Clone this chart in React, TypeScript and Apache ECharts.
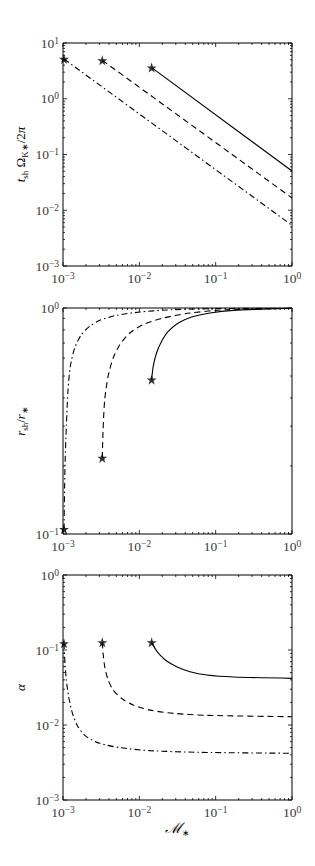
import React, { useEffect, useRef } from "react";
import * as echarts from "echarts";

// Panel 1: t_sh Omega_K*/2pi vs M*
const T_SOLID: number[][] = [[0.0145, 3.62], [1, 0.0506]];
const T_DASHED: number[][] = [[3.27e-3, 4.89], [1, 0.0166]];
const T_DASHDOT: number[][] = [[1.03e-3, 5.16], [1, 0.00536]];

// Panel 2: r_sh / r_*
const R_SOLID: number[][] = [[0.0145, 0.482], [0.0152, 0.552], [0.0168, 0.632], [0.0196, 0.712], [0.0239, 0.788], [0.0324, 0.858], [0.0485, 0.912], [0.0844, 0.95], [0.171, 0.976], [0.469, 0.99], [1, 0.997]];
const R_DASHED: number[][] = [[3.27e-3, 0.217], [3.35e-3, 0.29], [3.52e-3, 0.393], [3.9e-3, 0.499], [4.54e-3, 0.601], [5.55e-3, 0.688], [7.5e-3, 0.775], [0.01125, 0.844], [0.0206, 0.903], [0.0461, 0.95], [0.1396, 0.983], [1, 0.997]];
const R_DASHDOT: number[][] = [[1.03e-3, 0.105], [1.062e-3, 0.199], [1.106e-3, 0.3], [1.164e-3, 0.435], [1.248e-3, 0.552], [1.42e-3, 0.665], [1.74e-3, 0.762], [2.24e-3, 0.83], [3.03e-3, 0.882], [5.0e-3, 0.928], [0.0102, 0.96], [0.0227, 0.98], [0.0763, 0.993], [1, 0.998]];

// Panel 3: alpha
const A_SOLID: number[][] = [[0.0145, 0.1265], [0.016, 0.105], [0.0186, 0.0858], [0.0228, 0.0713], [0.0308, 0.06], [0.0461, 0.0514], [0.0764, 0.0464], [0.171, 0.0437], [1, 0.0419]];
const A_DASHED: number[][] = [[3.27e-3, 0.1265], [3.35e-3, 0.0903], [3.52e-3, 0.06], [3.9e-3, 0.0398], [4.54e-3, 0.0293], [5.83e-3, 0.0227], [8.3e-3, 0.0185], [0.01375, 0.0158], [0.0279, 0.0143], [0.0764, 0.01346], [1, 0.0129]];
const A_DASHDOT: number[][] = [[1.03e-3, 0.1227], [1.062e-3, 0.0664], [1.106e-3, 0.0398], [1.186e-3, 0.0239], [1.33e-3, 0.0143], [1.57e-3, 0.0095], [2.02e-3, 0.00699], [3.03e-3, 0.0057], [5.55e-3, 0.00499], [0.01375, 0.00455], [0.0624, 0.00432], [1, 0.0042]];

// Axis ranges (decade exponents)
const X_DECADES = [-3, -2, -1, 0];
const Y_DECADES_1 = [-3, -2, -1, 0, 1];
const Y_DECADES_2 = [-1, 0];
const Y_DECADES_3 = [-3, -2, -1, 0];
const MANTISSAS = [1, 2, 3, 4, 5, 6, 7, 8, 9];

// Axis titles
const Y_TITLES = [
  "{i|t}{sub|sh} {r|\u03A9}{sub|K\u2217}{r|/2}{i|\u03C0}",
  "{i|r}{sub|sh}{r|/}{i|r}{sub|\u2217}",
  "{i|\u03B1}",
];
const X_TITLE = "{m|\u2133}{sub|\u2217}";

const FONT = "Liberation Serif";
const LABEL_COLOR = "#3a3a3a";
const STAR = "path://M50,0 L61.8,35.3 L99,35.3 L69,57.1 L80.4,92.7 L50,70.6 L19.6,92.7 L31,57.1 L1,35.3 L38.2,35.3 Z";

function tickValues(decades: number[]) {
  const out: { v: number; major: boolean }[] = [];
  for (let i = 0; i < decades.length; i++) {
    const d = decades[i];
    if (i === decades.length - 1) {
      out.push({ v: Math.pow(10, d), major: true });
    } else {
      for (const m of MANTISSAS) out.push({ v: m * Math.pow(10, d), major: m === 1 });
    }
  }
  return out;
}

function fmtExp(v: number) {
  const e = Math.round(Math.log10(v));
  const s = e < 0 ? "\u2212" + -e : String(e);
  return "{b|10}{s|" + s + "}";
}

const richLabel = {
  b: { fontSize: 13.5, fontFamily: FONT, color: LABEL_COLOR, lineHeight: 15 },
  s: { fontSize: 9.5, fontFamily: FONT, color: LABEL_COLOR, verticalAlign: "top", lineHeight: 9 },
};

const titleRich = {
  i: { fontSize: 13, fontFamily: FONT, fontStyle: "italic", color: LABEL_COLOR, lineHeight: 16 },
  r: { fontSize: 13, fontFamily: FONT, color: LABEL_COLOR, lineHeight: 16 },
  m: { fontSize: 15, fontFamily: "DejaVu Serif", fontStyle: "italic", color: LABEL_COLOR, lineHeight: 16 },
  sub: { fontSize: 9, fontFamily: FONT, color: LABEL_COLOR, verticalAlign: "bottom", lineHeight: 19 },
};

export default function App() {
  const ref = useRef<HTMLDivElement>(null);
  useEffect(() => {
    if (!ref.current) return;
    const chart = echarts.init(ref.current, undefined, { renderer: "svg" });

    const grids = [
      { left: 63, top: 43, width: 229, height: 223 },
      { left: 63, top: 308, width: 229, height: 226 },
      { left: 63, top: 575, width: 229, height: 225 },
    ];
    const yDecades = [Y_DECADES_1, Y_DECADES_2, Y_DECADES_3];
    const xMin = Math.pow(10, X_DECADES[0]);
    const xMax = Math.pow(10, X_DECADES[X_DECADES.length - 1]);

    const xAxes: any[] = [];
    const yAxes: any[] = [];
    const series: any[] = [];
    const panels = [
      [T_SOLID, T_DASHED, T_DASHDOT],
      [R_SOLID, R_DASHED, R_DASHDOT],
      [A_SOLID, A_DASHED, A_DASHDOT],
    ];
    const styles = [
      { type: "solid" },
      { type: [6, 4] },
      { type: [6, 3, 1.5, 3] },
    ];
    const graphics: any[] = [];

    for (let g = 0; g < 3; g++) {
      const yd = yDecades[g];
      const yMin = Math.pow(10, yd[0]);
      const yMax = Math.pow(10, yd[yd.length - 1]);
      const gr = grids[g];
      xAxes.push({
        type: "log",
        gridIndex: g,
        min: xMin,
        max: xMax,
        interval: 1,
        axisLine: { show: false },
        axisTick: { show: false },
        splitLine: { show: false },
        axisLabel: { formatter: fmtExp, rich: richLabel, margin: 5 },
      });
      yAxes.push({
        type: "log",
        gridIndex: g,
        min: yMin,
        max: yMax,
        interval: 1,
        axisLine: { show: false },
        axisTick: { show: false },
        splitLine: { show: false },
        axisLabel: { formatter: fmtExp, rich: richLabel, margin: 4 },
      });

      graphics.push({
        type: "text",
        x: 20,
        y: gr.top + gr.height / 2,
        rotation: Math.PI / 2,
        style: { text: Y_TITLES[g], rich: titleRich, align: "center", verticalAlign: "middle" },
      });
      if (g === 2) {
        graphics.push({
          type: "text",
          x: gr.left + gr.width / 2,
          y: 828,
          style: { text: X_TITLE, rich: titleRich, align: "center", verticalAlign: "middle" },
        });
      }

      // ticks (inside, on all four sides)
      const xt = tickValues(X_DECADES).map((t) => [t.v, yMin, 0, t.major ? 1 : 0]);
      const yt = tickValues(yd).map((t) => [xMin, t.v, 1, t.major ? 1 : 0]);
      series.push({
        type: "custom",
        xAxisIndex: g,
        yAxisIndex: g,
        silent: true,
        clip: false,
        z: 5,
        data: xt.concat(yt),
        renderItem: (params: any, api: any) => {
          const cs = params.coordSys;
          const kind = api.value(2);
          const len = api.value(3) ? 4 : 2;
          const p = api.coord([api.value(0), api.value(1)]);
          const st = { stroke: "#000", lineWidth: 0.8 };
          if (kind === 0) {
            const x = p[0];
            return {
              type: "group",
              children: [
                { type: "line", shape: { x1: x, y1: cs.y + cs.height, x2: x, y2: cs.y + cs.height - len }, style: st },
                { type: "line", shape: { x1: x, y1: cs.y, x2: x, y2: cs.y + len }, style: st },
              ],
            };
          }
          const y = p[1];
          return {
            type: "group",
            children: [
              { type: "line", shape: { x1: cs.x, y1: y, x2: cs.x + len, y2: y }, style: st },
              { type: "line", shape: { x1: cs.x + cs.width, y1: y, x2: cs.x + cs.width - len, y2: y }, style: st },
            ],
          };
        },
      });

      const lines = panels[g];
      for (let k = 0; k < 3; k++) {
        series.push({
          type: "line",
          xAxisIndex: g,
          yAxisIndex: g,
          data: lines[k],
          showSymbol: false,
          smooth: g === 0 ? false : 0.25,
          lineStyle: { color: "#000", width: 1.1, type: styles[k].type },
          z: 3,
        });
        series.push({
          type: "scatter",
          xAxisIndex: g,
          yAxisIndex: g,
          data: [lines[k][0]],
          symbol: STAR,
          symbolSize: 10,
          itemStyle: { color: "#000" },
          z: 4,
        });
      }
    }

    chart.setOption({
      animation: false,
      backgroundColor: "#fff",
      grid: grids.map((gr) => ({ ...gr, show: true, borderColor: "#000", borderWidth: 1, backgroundColor: "transparent" })),
      xAxis: xAxes,
      yAxis: yAxes,
      series,
      graphic: graphics,
    });
    return () => chart.dispose();
  }, []);
  return <div ref={ref} style={{ position: "absolute", left: 0, top: 0, width: 315, height: 866 }} />;
}
